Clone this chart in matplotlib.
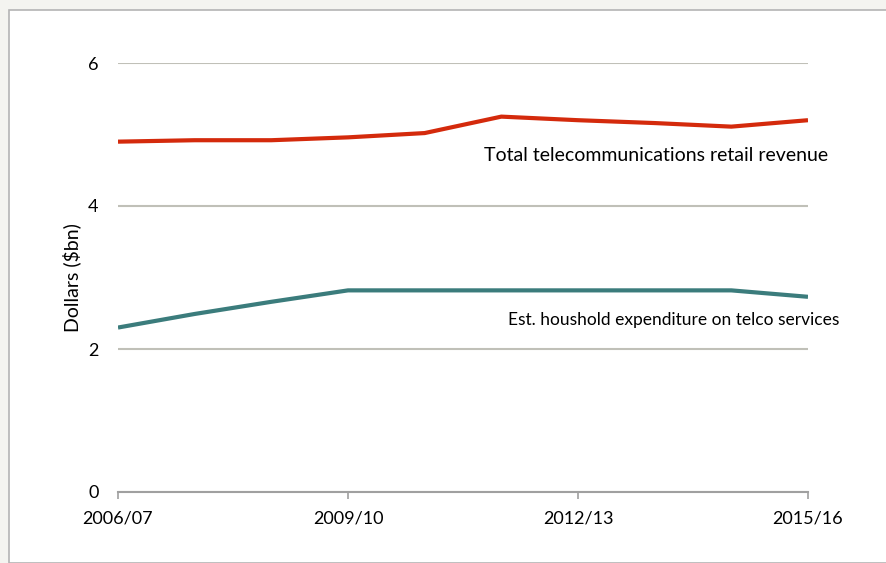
import matplotlib
matplotlib.use("Agg")
import matplotlib.pyplot as plt
from matplotlib.patches import Rectangle

years = ["2006/07", "2007/08", "2008/09", "2009/10", "2010/11",
         "2011/12", "2012/13", "2013/14", "2014/15", "2015/16"]
total_revenue = [4.90, 4.92, 4.92, 4.96, 5.02, 5.25, 5.20, 5.16, 5.11, 5.20]
household_exp = [2.30, 2.49, 2.66, 2.82, 2.82, 2.82, 2.82, 2.82, 2.82, 2.73]
y_ticks = [0, 2, 4, 6]

plt.rcParams['font.family'] = ['Lato', 'DejaVu Sans']

fig = plt.figure(figsize=(8.86, 5.63), dpi=100)
fig.patch.set_facecolor('#f4f4f0')
# white panel with grey border
fig.patches.append(Rectangle((9 / 886, 0), 1, 1 - 10 / 563, transform=fig.transFigure,
                             facecolor='white', edgecolor='#b4b4b4', linewidth=1.2, zorder=-1))

ax = fig.add_axes([118 / 886, 1 - 492 / 563, 690 / 886, 429 / 563])
ax.set_facecolor('none')
x = list(range(len(years)))

ax.plot(x, total_revenue, color='#d42a0c', lw=3, solid_capstyle='butt', zorder=3)
ax.plot(x, household_exp, color='#3b7c7c', lw=3, solid_capstyle='butt', zorder=3)

ax.set_xlim(0, len(years) - 1)
ax.set_ylim(0, 6)
ax.set_yticks(y_ticks)
ax.set_yticklabels([str(v) for v in y_ticks], fontsize=13)
ax.set_xticks(x[::3])
ax.set_xticklabels(years[::3], fontsize=13)
ax.tick_params(axis='y', length=0, pad=14)
ax.tick_params(axis='x', length=5, color='#a0a0a0', width=1.2, pad=8)
ax.grid(axis='y', color='#c0c0b8', lw=1.5)
ax.set_axisbelow(True)
for s in ['top', 'right', 'left']:
    ax.spines[s].set_visible(False)
ax.spines['bottom'].set_color('#a0a0a0')
ax.spines['bottom'].set_linewidth(1.5)
ax.set_ylabel('Dollars ($bn)', fontsize=14, labelpad=5)

ax.text(4.77, 4.7, 'Total telecommunications retail revenue', fontsize=14, va='center')
ax.text(5.09, 2.4, 'Est. houshold expenditure on telco services', fontsize=12.5, va='center')

fig.savefig('out.png', dpi=100, facecolor=fig.get_facecolor())
